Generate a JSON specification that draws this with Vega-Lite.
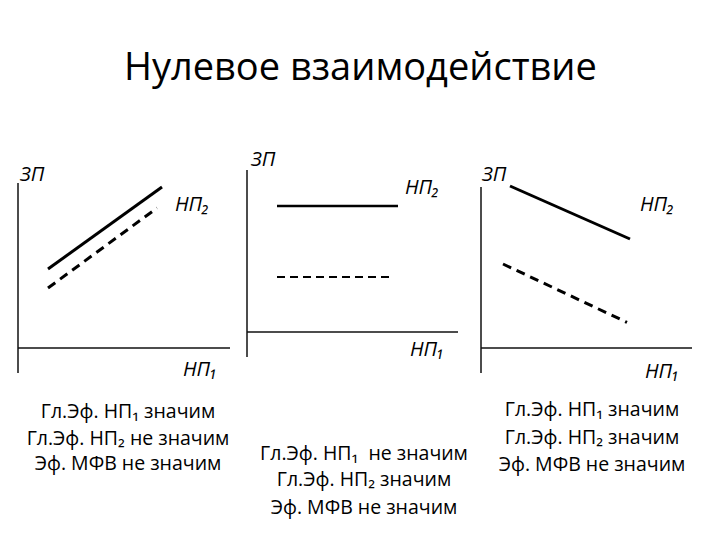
{
  "$schema": "https://vega.github.io/schema/vega-lite/v6.json",
  "padding": {"left": 8, "top": 49, "right": 0, "bottom": 0},
  "background": "white",
  "bounds": "flush",
  "title": {"text": "Нулевое взаимодействие", "fontSize": 38, "font": "Open Sans", "fontWeight": "normal", "anchor": "middle", "offset": 62, "dx": 10, "color": "#000"},
  "config": {"view": {"stroke": null}, "concat": {"spacing": 4}},
  "datasets": {
    "lines": [
      {"panel": 1, "series": "solid", "x": 1.5, "y": 3.95},
      {"panel": 1, "series": "solid", "x": 7.2, "y": 8.05},
      {"panel": 1, "series": "dashed", "x": 1.5, "y": 3.0},
      {"panel": 1, "series": "dashed", "x": 6.95, "y": 7.0},
      {"panel": 2, "series": "solid", "x": 1.5, "y": 6.3},
      {"panel": 2, "series": "solid", "x": 7.55, "y": 6.3},
      {"panel": 2, "series": "dashed", "x": 1.5, "y": 2.75},
      {"panel": 2, "series": "dashed", "x": 7.25, "y": 2.75},
      {"panel": 3, "series": "solid", "x": 1.45, "y": 8.1},
      {"panel": 3, "series": "solid", "x": 7.45, "y": 5.45},
      {"panel": 3, "series": "dashed", "x": 1.1, "y": 4.2},
      {"panel": 3, "series": "dashed", "x": 7.3, "y": 1.28}
    ],
    "axes": [
      {"panel": 1, "x": 0, "x2": 0, "y": -1.25, "y2": 8.25},
      {"panel": 1, "x": 0, "x2": 10.6, "y": 0, "y2": 0},
      {"panel": 2, "x": 0, "x2": 0, "y": -1.25, "y2": 8.1},
      {"panel": 2, "x": 0, "x2": 10.55, "y": 0, "y2": 0},
      {"panel": 3, "x": 0, "x2": 0, "y": -1.25, "y2": 8.05},
      {"panel": 3, "x": 0, "x2": 10.55, "y": 0, "y2": 0}
    ],
    "labels": [
      {"panel": 1, "text": "ЗП", "x": 0.1, "y": 8.65},
      {"panel": 1, "text": "НП₂", "x": 7.85, "y": 7.15},
      {"panel": 1, "text": "НП₁", "x": 8.25, "y": -1.1},
      {"panel": 2, "text": "ЗП", "x": 0.2, "y": 8.6},
      {"panel": 2, "text": "НП₂", "x": 7.9, "y": 7.2},
      {"panel": 2, "text": "НП₁", "x": 8.15, "y": -0.9},
      {"panel": 3, "text": "ЗП", "x": 0.05, "y": 8.65},
      {"panel": 3, "text": "НП₂", "x": 7.95, "y": 7.15},
      {"panel": 3, "text": "НП₁", "x": 8.2, "y": -1.2}
    ],
    "notes": [
      {"panel": 1, "text": "Гл.Эф. НП₁ значим", "x": 5.5, "y": -3.2},
      {"panel": 1, "text": "Гл.Эф. НП₂ не значим", "x": 5.5, "y": -4.55},
      {"panel": 1, "text": "Эф. МФВ не значим", "x": 5.5, "y": -5.8},
      {"panel": 2, "text": "Гл.Эф. НП₁\u00a0 не значим", "x": 5.85, "y": -6.1},
      {"panel": 2, "text": "Гл.Эф. НП₂ значим", "x": 5.85, "y": -7.4},
      {"panel": 2, "text": "Эф. МФВ не значим", "x": 5.85, "y": -8.8},
      {"panel": 3, "text": "Гл.Эф. НП₁ значим", "x": 5.55, "y": -3.1},
      {"panel": 3, "text": "Гл.Эф. НП₂ значим", "x": 5.55, "y": -4.5},
      {"panel": 3, "text": "Эф. МФВ не значим", "x": 5.55, "y": -5.85}
    ]
  },
  "resolve": {"scale": {"x": "independent", "y": "independent"}},
  "hconcat": [
    {
      "width": 225, "height": 370,
      "encoding": {
        "x": {"field": "x", "type": "quantitative", "scale": {"domain": [-0.5, 10.75], "nice": false, "zero": false}, "axis": null},
        "y": {"field": "y", "type": "quantitative", "scale": {"domain": [-8.6, 9.9], "nice": false, "zero": false}, "axis": null}
      },
      "layer": [
        {"data": {"name": "axes"}, "transform": [{"filter": "datum.panel == 1"}], "mark": {"type": "rule", "strokeWidth": 1.5, "color": "#111"}, "encoding": {"x2": {"field": "x2"}, "y2": {"field": "y2"}}},
        {"data": {"name": "lines"}, "transform": [{"filter": "datum.panel == 1 && datum.series == 'solid'"}], "mark": {"type": "line", "strokeWidth": 3, "color": "#000"}, "encoding": {}},
        {"data": {"name": "lines"}, "transform": [{"filter": "datum.panel == 1 && datum.series == 'dashed'"}], "mark": {"type": "line", "strokeWidth": 3, "strokeDash": [9, 6], "color": "#000"}, "encoding": {}},
        {"data": {"name": "labels"}, "transform": [{"filter": "datum.panel == 1"}], "mark": {"type": "text", "align": "left", "baseline": "middle", "font": "Open Sans", "fontStyle": "italic", "fontSize": 20, "color": "#000"}, "encoding": {"text": {"field": "text"}}},
        {"data": {"name": "notes"}, "transform": [{"filter": "datum.panel == 1"}], "mark": {"type": "text", "align": "center", "baseline": "middle", "font": "Open Sans", "fontSize": 19.5, "color": "#000"}, "encoding": {"text": {"field": "text"}}}
      ]
    },
    {
      "width": 225, "height": 370,
      "encoding": {
        "x": {"field": "x", "type": "quantitative", "scale": {"domain": [-0.5, 10.75], "nice": false, "zero": false}, "axis": null},
        "y": {"field": "y", "type": "quantitative", "scale": {"domain": [-9.4, 9.1], "nice": false, "zero": false}, "axis": null}
      },
      "layer": [
        {"data": {"name": "axes"}, "transform": [{"filter": "datum.panel == 2"}], "mark": {"type": "rule", "strokeWidth": 1.5, "color": "#111"}, "encoding": {"x2": {"field": "x2"}, "y2": {"field": "y2"}}},
        {"data": {"name": "lines"}, "transform": [{"filter": "datum.panel == 2 && datum.series == 'solid'"}], "mark": {"type": "line", "strokeWidth": 2.5, "color": "#000"}, "encoding": {}},
        {"data": {"name": "lines"}, "transform": [{"filter": "datum.panel == 2 && datum.series == 'dashed'"}], "mark": {"type": "line", "strokeWidth": 2.2, "strokeDash": [8, 5], "color": "#000"}, "encoding": {}},
        {"data": {"name": "labels"}, "transform": [{"filter": "datum.panel == 2"}], "mark": {"type": "text", "align": "left", "baseline": "middle", "font": "Open Sans", "fontStyle": "italic", "fontSize": 20, "color": "#000"}, "encoding": {"text": {"field": "text"}}},
        {"data": {"name": "notes"}, "transform": [{"filter": "datum.panel == 2"}], "mark": {"type": "text", "align": "center", "baseline": "middle", "font": "Open Sans", "fontSize": 19.5, "color": "#000"}, "encoding": {"text": {"field": "text"}}}
      ]
    },
    {
      "width": 225, "height": 370,
      "encoding": {
        "x": {"field": "x", "type": "quantitative", "scale": {"domain": [-0.75, 10.5], "nice": false, "zero": false}, "axis": null},
        "y": {"field": "y", "type": "quantitative", "scale": {"domain": [-8.6, 9.9], "nice": false, "zero": false}, "axis": null}
      },
      "layer": [
        {"data": {"name": "axes"}, "transform": [{"filter": "datum.panel == 3"}], "mark": {"type": "rule", "strokeWidth": 1.5, "color": "#111"}, "encoding": {"x2": {"field": "x2"}, "y2": {"field": "y2"}}},
        {"data": {"name": "lines"}, "transform": [{"filter": "datum.panel == 3 && datum.series == 'solid'"}], "mark": {"type": "line", "strokeWidth": 3, "color": "#000"}, "encoding": {}},
        {"data": {"name": "lines"}, "transform": [{"filter": "datum.panel == 3 && datum.series == 'dashed'"}], "mark": {"type": "line", "strokeWidth": 3, "strokeDash": [9, 6], "color": "#000"}, "encoding": {}},
        {"data": {"name": "labels"}, "transform": [{"filter": "datum.panel == 3"}], "mark": {"type": "text", "align": "left", "baseline": "middle", "font": "Open Sans", "fontStyle": "italic", "fontSize": 20, "color": "#000"}, "encoding": {"text": {"field": "text"}}},
        {"data": {"name": "notes"}, "transform": [{"filter": "datum.panel == 3"}], "mark": {"type": "text", "align": "center", "baseline": "middle", "font": "Open Sans", "fontSize": 19.5, "color": "#000"}, "encoding": {"text": {"field": "text"}}}
      ]
    }
  ]
}
